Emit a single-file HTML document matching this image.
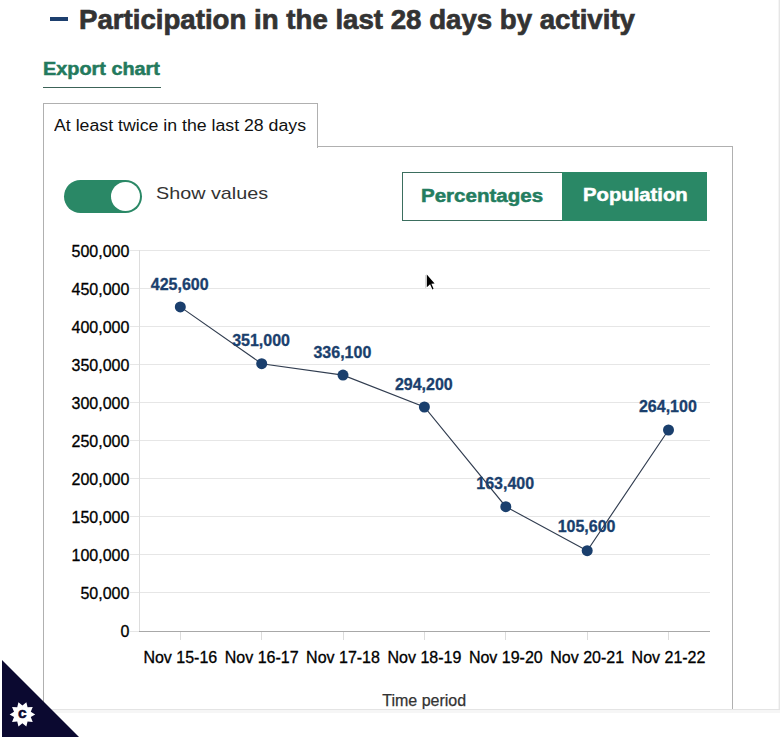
<!DOCTYPE html>
<html><head><meta charset="utf-8">
<style>
html,body{margin:0;padding:0;background:#fff;width:780px;height:741px;overflow:hidden;}
body{position:relative;font-family:"Liberation Sans",sans-serif;}
.a{position:absolute;white-space:nowrap;}
#dash{left:50px;top:17px;width:18px;height:4px;background:#1d3f6e;}
#h1{left:78.5px;top:6px;font-size:28px;line-height:28px;font-weight:bold;color:#333;transform-origin:0 0;transform:scaleX(0.987);-webkit-text-stroke:0.7px #333;}
#exp{left:43px;top:60px;font-size:18px;line-height:18px;font-weight:bold;color:#237a5d;transform-origin:0 0;transform:scaleX(1.103);-webkit-text-stroke:0.5px #237a5d;}
#expu{left:43px;top:87px;width:118px;height:1px;background:#3c6358;}
#tab{left:43px;top:103px;width:273px;height:44px;border:1px solid #b0b0b0;border-bottom:none;background:#fff;}
#box{left:43px;top:146px;width:688px;height:600px;border:1px solid #b0b0b0;}
#tabcover{left:44px;top:146px;width:273px;height:1px;background:#fff;}
#tabt{left:54px;top:118px;font-size:16px;line-height:16px;color:#111;transform-origin:0 0;transform:scaleX(1.107);}
#tog{left:64px;top:180px;width:78px;height:33px;border-radius:17px;background:#2a8866;}
#knob{left:111px;top:182px;width:29px;height:29px;border-radius:50%;background:#fff;}
#sv{left:156px;top:185px;font-size:17px;line-height:17px;color:#333;transform-origin:0 0;transform:scaleX(1.163);}
#btns{left:402px;top:172px;width:303px;height:47px;border:1px solid #3b6e5e;}
#pop{left:562px;top:172px;width:145px;height:49px;background:#2a8866;}
#pct{left:421px;top:186.7px;font-size:18.5px;line-height:18.5px;font-weight:bold;color:#247d5f;transform-origin:0 0;transform:scaleX(1.11);-webkit-text-stroke:0.5px #247d5f;}
#popt{left:583px;top:186.4px;font-size:18.5px;line-height:18.5px;font-weight:bold;color:#fff;transform-origin:0 0;transform:scaleX(1.095);-webkit-text-stroke:0.5px #fff;}
#chart{left:0;top:0;}
#clip{left:2px;top:709px;width:778px;height:32px;background:#fff;border-top:1px solid #e4e4e4;}
#shadow{left:2px;top:710px;width:778px;height:3px;background:#f6f6f6;}
#redge{left:779px;top:0;width:1px;height:709px;background:#e6e6e6;}
#redge2{left:778px;top:0;width:1px;height:709px;background:#f5f5f5;}
</style></head><body>
<div class="a" id="dash"></div>
<div class="a" id="h1">Participation in the last 28 days by activity</div>
<div class="a" id="exp">Export chart</div>
<div class="a" id="expu"></div>
<div class="a" id="box"></div>
<div class="a" id="tab"></div>
<div class="a" id="tabt">At least twice in the last 28 days</div>
<div class="a" id="tog"></div>
<div class="a" id="knob"></div>
<div class="a" id="sv">Show values</div>
<div class="a" id="btns"></div>
<div class="a" id="pop"></div>
<div class="a" id="pct">Percentages</div>
<div class="a" id="popt">Population</div>
<svg class="a" id="chart" width="780" height="741" viewBox="0 0 780 741" style="font-family:'Liberation Sans',sans-serif;">
<g stroke="#e6e6e6" stroke-width="1" shape-rendering="crispEdges">
<path d="M130 250.5H710M130 288.5H710M130 326.5H710M130 364.5H710M130 402.5H710M130 440.5H710M130 478.5H710M130 516.5H710M130 554.5H710M130 592.5H710"/>
</g>
<path d="M139.5 250V631" stroke="#ddd" stroke-width="1" shape-rendering="crispEdges"/>
<path d="M130 631.5H139" stroke="#e6e6e6" stroke-width="1" shape-rendering="crispEdges"/>
<path d="M139 631.5H710" stroke="#a8a8a8" stroke-width="1" shape-rendering="crispEdges"/>
<g stroke="#dcdcdc" stroke-width="1" shape-rendering="crispEdges">
<path d="M180.5 632V640M261.5 632V640M343.5 632V640M424.5 632V640M505.5 632V640M587.5 632V640M668.5 632V640"/>
</g>
<g font-size="16" fill="#000" stroke="#000" stroke-width="0.3" text-anchor="end">
<text x="129.4" y="256.5">500,000</text>
<text x="129.4" y="294.5">450,000</text>
<text x="129.4" y="332.5">400,000</text>
<text x="129.4" y="370.5">350,000</text>
<text x="129.4" y="408.5">300,000</text>
<text x="129.4" y="446.5">250,000</text>
<text x="129.4" y="484.5">200,000</text>
<text x="129.4" y="522.5">150,000</text>
<text x="129.4" y="560.5">100,000</text>
<text x="129.4" y="598.5">50,000</text>
<text x="129.4" y="636.5">0</text>
</g>
<g font-size="16" fill="#000" stroke="#000" stroke-width="0.3" text-anchor="middle">
<text x="180.3" y="662.6">Nov 15-16</text>
<text x="261.7" y="662.6">Nov 16-17</text>
<text x="343" y="662.6">Nov 17-18</text>
<text x="424.4" y="662.6">Nov 18-19</text>
<text x="505.8" y="662.6">Nov 19-20</text>
<text x="587.2" y="662.6">Nov 20-21</text>
<text x="668.5" y="662.6">Nov 21-22</text>
</g>
<text x="424.2" y="705.8" font-size="16" fill="#333" stroke="#333" stroke-width="0.25" text-anchor="middle">Time period</text>
<polyline fill="none" stroke="#313d50" stroke-width="1.15" points="180.3,306.9 261.7,363.7 343,375.1 424.4,407.0 505.8,506.7 587.2,550.7 668.5,430.0"/>
<g fill="#1a3f6d">
<circle cx="180.3" cy="306.9" r="5.5"/>
<circle cx="261.7" cy="363.7" r="5.5"/>
<circle cx="343" cy="375.1" r="5.5"/>
<circle cx="424.4" cy="407.0" r="5.5"/>
<circle cx="505.8" cy="506.7" r="5.5"/>
<circle cx="587.2" cy="550.7" r="5.5"/>
<circle cx="668.5" cy="430.0" r="5.5"/>
</g>
<g font-size="16" font-weight="bold" fill="#1a3f6d" stroke="#1a3f6d" stroke-width="0.3" text-anchor="middle">
<text x="179.7" y="289.5">425,600</text>
<text x="261.1" y="345.7">351,000</text>
<text x="342.4" y="357.7">336,100</text>
<text x="423.8" y="389.7">294,200</text>
<text x="505.2" y="488.5">163,400</text>
<text x="586.6" y="532.4">105,600</text>
<text x="667.9" y="411.6">264,100</text>
</g>
</svg>
<svg class="a" style="left:0;top:0" width="780" height="741">
<path d="M425.5 275V288" stroke="#d8d8d8" stroke-width="1"/>
<polygon points="426.5,273.6 435.6,284.3 432.2,284.4 434.3,289.2 432.2,290.2 430,285.3 426.5,288.2" fill="#fff"/><polygon points="426.8,274.6 434.6,283.6 431.4,283.8 433.6,288.8 432.4,289.4 430.1,284.3 426.8,287.3" fill="#000"/>
</svg>
<div class="a" id="clip"></div>
<div class="a" id="shadow"></div>
<div class="a" id="redge2"></div>
<div class="a" id="redge"></div>
<svg class="a" style="left:0;top:0" width="780" height="741">
<polygon points="2,660 2,737 79,737" fill="#0b0930"/>
<polygon id="star" fill="#fff" points="35.20,714.40 30.77,711.68 32.76,706.88 27.57,707.28 26.36,702.23 22.40,705.60 18.44,702.23 17.23,707.28 12.04,706.88 14.03,711.68 9.60,714.40 14.03,717.12 12.04,721.92 17.23,721.52 18.44,726.57 22.40,723.20 26.36,726.57 27.57,721.52 32.76,721.92 30.77,717.12"/>
<text x="22.3" y="718.4" font-size="15.5" font-weight="bold" fill="#0b0930" stroke="#0b0930" stroke-width="0.5" text-anchor="middle" font-family="Liberation Sans, sans-serif">c</text>
</svg>
</body></html>
